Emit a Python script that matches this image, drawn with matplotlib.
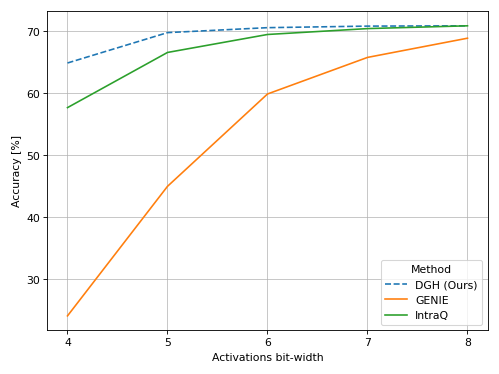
import matplotlib
matplotlib.use('Agg')
import matplotlib.pyplot as plt

bits = [4, 5, 6, 7, 8]
dgh = [64.9, 69.8, 70.6, 70.85, 70.9]
genie = [24.1, 45.0, 59.9, 65.8, 68.9]
intraq = [57.7, 66.6, 69.5, 70.45, 70.9]

fig, ax = plt.subplots(figsize=(6.4, 4.8), dpi=78)
ax.plot(bits, dgh, '--', color='#1f77b4', label='DGH (Ours)')
ax.plot(bits, genie, color='#ff7f0e', label='GENIE')
ax.plot(bits, intraq, color='#2ca02c', label='IntraQ')
ax.set_xticks(bits)
ax.set_xlabel('Activations bit-width')
ax.set_ylabel('Accuracy [%]')
ax.grid(True, alpha=0.8)
ax.legend(title='Method', loc='lower right')
fig.tight_layout()
fig.savefig('out.png')
